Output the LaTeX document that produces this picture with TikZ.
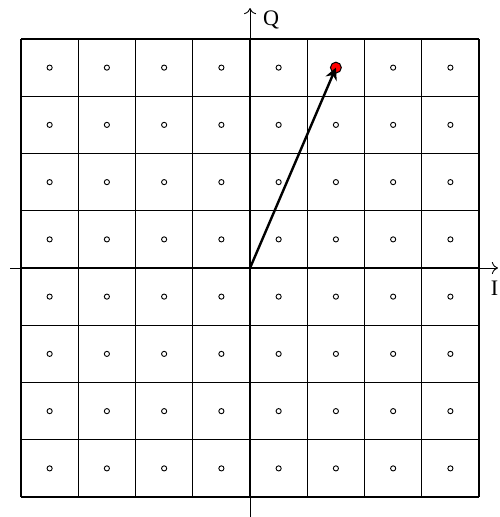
\documentclass[tikz,border=0pt]{standalone}
\usepackage{fontspec}
\setmainfont{Liberation Serif}
\usetikzlibrary{arrows.meta}
\begin{document}
\begin{tikzpicture}[
  gridline/.style={line width=0.6pt},
  axisline/.style={line width=0.45pt,-{To[length=3pt,width=6pt]}},
  pt/.style={circle,draw,inner sep=0pt,minimum size=0.09cm,line width=0.45pt},
  lbl/.style={font=\fontsize{11}{13}\selectfont,inner sep=0pt}]
\useasboundingbox (-4.367,-4.349) rectangle (4.349,4.681);
% grid
\draw[gridline] (-4,-4) grid (4,4);
% axes
\coordinate (xs) at (-4.19,0);
\coordinate (xe) at (4.33,0);
\coordinate (ys) at (0,-4.36);
\coordinate (ye) at (0,4.54);
\draw[axisline] (xs) -- (xe);
\draw[axisline] (ys) -- (ye);
\node[lbl] (Q) at (0.37,4.33) {Q};
\node[lbl] (I) at (4.27,-0.35) {I};
% constellation points
\foreach \i in {-3.5,-2.5,...,3.5}
  \foreach \j in {-3.5,-2.5,...,3.5}
    \node[pt] at (\i,\j) {};
% highlighted symbol
\coordinate (O) at (0,0);
\node[circle,draw,fill=red,inner sep=0pt,minimum size=0.19cm,line width=0.5pt] (S) at (1.5,3.5) {};
\draw[line width=1.2pt,-{Stealth[length=6pt,width=6pt]}] (O) -- (S.center);
\end{tikzpicture}
\end{document}
